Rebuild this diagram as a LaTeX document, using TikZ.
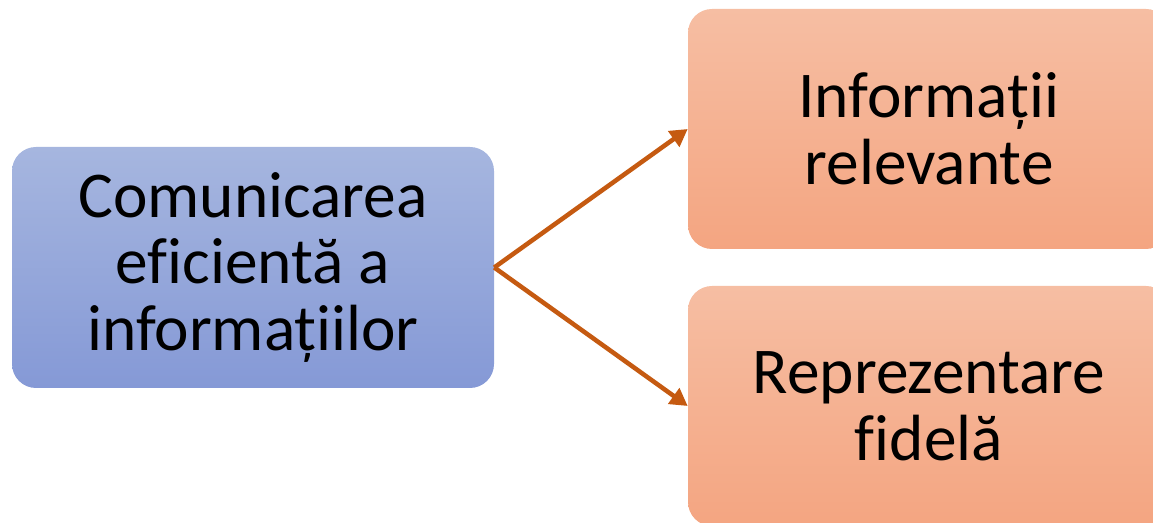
\documentclass[tikz,border=0pt]{standalone}
\usepackage{fontspec}
\setmainfont{Carlito}[Ligatures=NoCommon]
\usetikzlibrary{arrows.meta}
\definecolor{bluetop}{HTML}{A6B6DF}
\definecolor{bluebot}{HTML}{8599D6}
\definecolor{salmontop}{HTML}{F6BEA3}
\definecolor{salmonbot}{HTML}{F4A581}
\definecolor{arrowc}{HTML}{C55A11}
\tikzset{
  card/.style={rounded corners=18pt, minimum width=361.5pt, inner sep=0pt,
    align=center, font=\fontsize{49}{50}\selectfont, text=black},
  bluecard/.style={card, minimum height=180.75pt, top color=bluetop, bottom color=bluebot},
  salmoncard/.style={card, minimum height=180pt, top color=salmontop, bottom color=salmonbot},
  link/.style={draw=arrowc, line width=3.4pt,
    -{Triangle[length=13pt, width=14pt]}}
}
\begin{document}
\begin{tikzpicture}[x=0.75pt, y=-0.75pt]
  \useasboundingbox (0,0) rectangle (1153,523);
  \clip (0,0) rectangle (1153,523);
  \node[bluecard] (src) at (253,267.5) {Comunicarea\\eficientă a\\informațiilor};
  \node[salmoncard] (rel) at (929,129) {Informații\\relevante};
  \node[salmoncard] (fid) at (929,406) {Reprezentare\\fidelă};
  \draw[link] (src.east) -- (rel.west);
  \draw[link] (src.east) -- (fid.west);
\end{tikzpicture}
\end{document}
